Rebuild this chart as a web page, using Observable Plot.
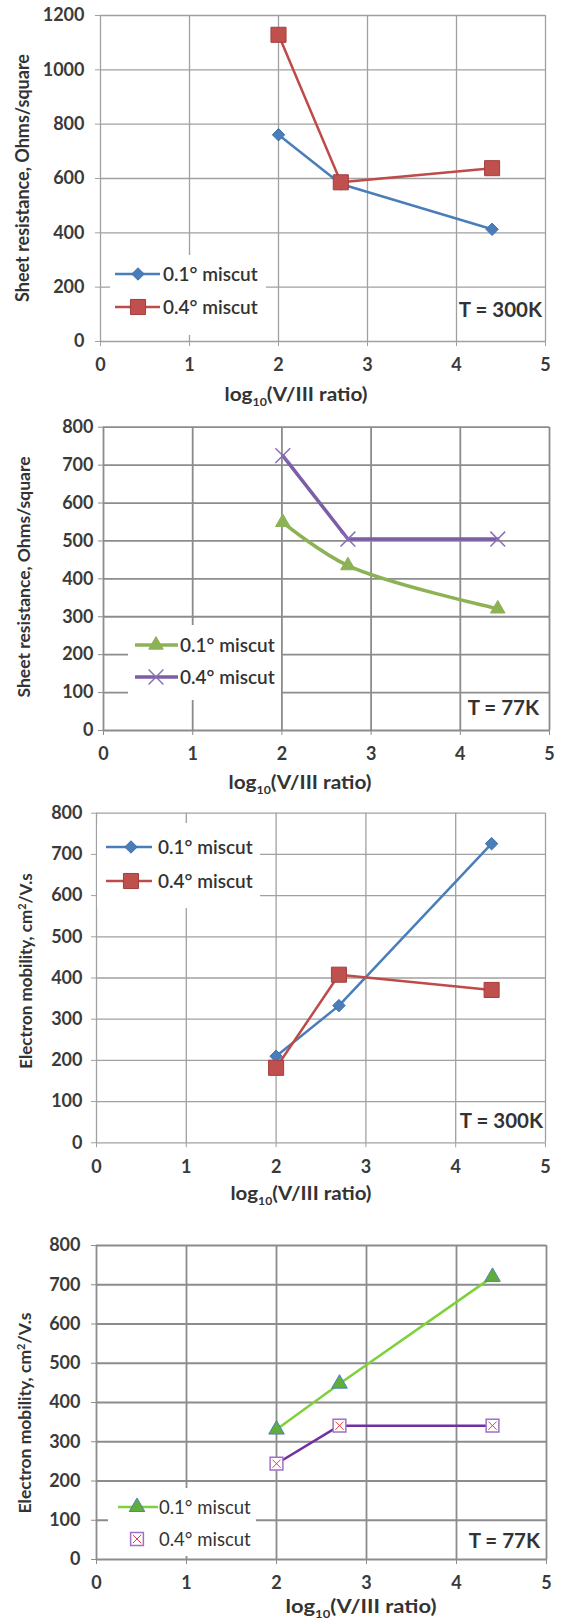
<!DOCTYPE html>
<html><head><meta charset="utf-8">
<script src="https://cdn.jsdelivr.net/npm/d3@7"></script>
<script src="https://cdn.jsdelivr.net/npm/@observablehq/plot@0.6"></script>
<style>
body{margin:0;background:#fff}
#c svg{display:block}
</style>
</head><body><div id="c"></div>
<script>
// ---------- data ----------
const xTicks = [0, 1, 2, 3, 4, 5];
const seriesNames = ["0.1° miscut", "0.4° miscut"];

// Panel 1: sheet resistance, 300 K
const p1X = [2, 2.7, 4.4];
const p1Miscut01 = [761, 580, 413];
const p1Miscut04 = [1129, 586, 638];
const p1YTicks = [0, 200, 400, 600, 800, 1000, 1200];

// Panel 2: sheet resistance, 77 K
const p2X = [2.01, 2.74, 4.42];
const p2Miscut01 = [549, 435, 321];
const p2Miscut04 = [725, 505, 505];
const p2YTicks = [0, 100, 200, 300, 400, 500, 600, 700, 800];

// Panel 3: electron mobility, 300 K
const p3X = [2, 2.7, 4.4];
const p3Miscut01 = [210, 333, 726];
const p3Miscut04 = [182, 408, 371];
const p3YTicks = [0, 100, 200, 300, 400, 500, 600, 700, 800];

// Panel 4: electron mobility, 77 K
const p4X = [2, 2.7, 4.4];
const p4Miscut01 = [331, 448, 720];
const p4Miscut04 = [244, 341, 341];
const p4YTicks = [0, 100, 200, 300, 400, 500, 600, 700, 800];

const rows = (xs, ys) => xs.map((x, i) => ({x, y: ys[i]}));

const FONT = "Lato, 'Liberation Sans', sans-serif";

function symPath(type, size) {
  return d3.symbol().type(type).size(size)();
}

function makePanel(cfg) {
  const s1 = rows(cfg.x, cfg.a), s2 = rows(cfg.x, cfg.b);
  const marks = [
    Plot.gridX(xTicks, {stroke: cfg.grid, strokeOpacity: 1, strokeWidth: cfg.gridW}),
    Plot.gridY(cfg.yTicks, {stroke: cfg.grid, strokeOpacity: 1, strokeWidth: cfg.gridW}),
    Plot.axisX(xTicks, {tickSize: 5, tickPadding: cfg.xPad, tickFormat: d => String(d), label: null}),
    Plot.axisY(cfg.yTicks, {tickSize: 5, tickPadding: cfg.yPad, tickFormat: d => String(d), label: null}),
  ];
  [[s1, cfg.st1], [s2, cfg.st2]].forEach(([data, st]) => {
    marks.push(Plot.line(data, {x: "x", y: "y", stroke: st.color, strokeWidth: st.lw, curve: st.curve || "linear"}));
    marks.push(Plot.dot(data, {x: "x", y: "y", symbol: st.symbol, r: st.r, fill: st.fill, stroke: st.stroke, strokeWidth: st.sw}));
    if (st.inner) marks.push(Plot.dot(data, {x: "x", y: "y", symbol: "times", r: st.inner.r, stroke: st.inner.stroke, strokeWidth: 1}));
  });
  const svg = Plot.plot({
    width: 564, height: cfg.height,
    marginTop: cfg.mt, marginBottom: cfg.mb, marginLeft: cfg.ml, marginRight: cfg.mr,
    x: {domain: [0, 5]},
    y: {domain: [cfg.yTicks[0], cfg.yTicks[cfg.yTicks.length - 1]]},
    style: {fontFamily: FONT, fontSize: "18px", fontWeight: "bold", color: "#3a3a3a", background: "#fff", overflow: "visible"},
    marks
  });
  const g = d3.select(svg);
  g.selectAll("[aria-label='x-axis tick'] path, [aria-label='y-axis tick'] path").attr("stroke", cfg.grid);

  // legend
  const L = cfg.legend;
  const lg = g.append("g").attr("font-family", FONT).attr("text-anchor", "start");
  lg.append("rect").attr("x", L.x0).attr("y", L.y0).attr("width", L.x1 - L.x0).attr("height", L.y1 - L.y0).attr("fill", "#fff");
  [cfg.st1, cfg.st2].forEach((st, i) => {
    const yy = L.rows[i];
    if (!st.noLegendLine)
      lg.append("line").attr("x1", L.lx0).attr("x2", L.lx1).attr("y1", yy).attr("y2", yy)
        .attr("stroke", st.color).attr("stroke-width", st.lw);
    const type = {square: d3.symbolSquare, diamond2: d3.symbolDiamond2, triangle: d3.symbolTriangle, times: d3.symbolTimes}[st.symbol];
    lg.append("path").attr("d", symPath(type, Math.PI * st.r * st.r))
      .attr("transform", `translate(${L.mx},${yy})`)
      .attr("fill", st.fill).attr("stroke", st.stroke).attr("stroke-width", st.sw);
    if (st.inner)
      lg.append("path").attr("d", symPath(d3.symbolTimes, Math.PI * st.inner.r * st.inner.r))
        .attr("transform", `translate(${L.mx},${yy})`).attr("fill", "none").attr("stroke", st.inner.stroke);
    lg.append("text").attr("x", L.tx).attr("y", yy).attr("dy", "0.36em")
      .attr("font-size", L.fs).attr("font-weight", L.fw).attr("fill", "#333").text(seriesNames[i]);
  });

  // temperature annotation
  g.append("text").attr("x", cfg.t.x).attr("y", cfg.t.y).attr("text-anchor", "end")
    .attr("font-family", FONT).attr("font-size", 20.5).attr("font-weight", "bold").attr("fill", "#333").text(cfg.t.label);

  // x label with subscript
  const xl = g.append("text").attr("x", cfg.xl.x - cfg.xl.w / 2).attr("y", cfg.xl.y).attr("text-anchor", "start")
    .attr("textLength", cfg.xl.w).attr("lengthAdjust", "spacingAndGlyphs")
    .attr("font-family", FONT).attr("font-size", 18.5).attr("font-weight", "bold").attr("fill", "#333");
  xl.append("tspan").text("log");
  xl.append("tspan").attr("font-size", 11).attr("dy", 5).text("10");
  xl.append("tspan").attr("dy", -5).text("(V/III ratio)");

  // y label
  const yl = g.append("text").attr("transform", `translate(${cfg.yl.x},${cfg.yl.y}) rotate(-90)`)
    .attr("text-anchor", "middle").attr("dy", "0.36em")
    .attr("font-family", FONT).attr("font-size", cfg.yl.fs).attr("font-weight", "bold").attr("fill", "#333");
  cfg.yl.parts.forEach(p => {
    const t = yl.append("tspan").text(p.t);
    if (p.sup) t.attr("font-size", 11).attr("dy", -6);
    if (p.after) t.attr("dy", 6);
  });
  return svg;
}

const blue = {color: "#4a7ebb", lw: 2.5, symbol: "diamond2", r: 5.6, fill: "#4a7ebb", stroke: "#3f6fa8", sw: 1};
const red = {color: "#be4b48", lw: 2.5, symbol: "square", r: 8.5, fill: "#c0504d", stroke: "#a33f3c", sw: 1};

const panels = [
  {
    height: 410, mt: 15, mb: 69, ml: 100, mr: 19, x: p1X, a: p1Miscut01, b: p1Miscut04, yTicks: p1YTicks,
    grid: "#a0a0a0", gridW: 1.3, xPad: 12, yPad: 11,
    st1: blue, st2: red,
    legend: {x0: 110, x1: 266, y0: 255, y1: 335, rows: [274, 307], lx0: 115, lx1: 160, mx: 138, tx: 163, fs: 19, fw: 600},
    t: {x: 542, y: 317, label: "T = 300K"},
    xl: {x: 296, y: 401, w: 143},
    yl: {x: 23, y: 178, fs: 18, parts: [{t: "Sheet resistance, Ohms/square"}]}
  },
  {
    height: 390, mt: 16.7, mb: 70, ml: 103, mr: 15, x: p2X, a: p2Miscut01, b: p2Miscut04, yTicks: p2YTicks,
    grid: "#8c8c8c", gridW: 1.8, xPad: 12, yPad: 5,
    st1: {color: "#8db255", lw: 3.5, symbol: "triangle", r: 5.4, fill: "#8db255", stroke: "#8db255", sw: 1, curve: "catmull-rom"},
    st2: {color: "#7b5ea7", lw: 3.5, symbol: "times", r: 6.8, fill: "none", stroke: "#8a6fb5", sw: 1.5},
    legend: {x0: 128, x1: 281, y0: 215, y1: 290, rows: [235, 267], lx0: 135, lx1: 178, mx: 156, tx: 180, fs: 19, fw: 600},
    t: {x: 539, y: 305, label: "T = 77K"},
    xl: {x: 300, y: 379, w: 143},
    yl: {x: 23.5, y: 167, fs: 17.5, parts: [{t: "Sheet resistance, Ohms/square"}]}
  },
  {
    height: 410, mt: 12.7, mb: 67.7, ml: 96, mr: 19, x: p3X, a: p3Miscut01, b: p3Miscut04, yTicks: p3YTicks,
    grid: "#a0a0a0", gridW: 1.3, xPad: 12, yPad: 9,
    st1: blue, st2: red,
    legend: {x0: 97, x1: 260, y0: 23, y1: 108, rows: [47, 81], lx0: 106, lx1: 152, mx: 131, tx: 158, fs: 19, fw: 600},
    t: {x: 543, y: 328, label: "T = 300K"},
    xl: {x: 301, y: 400, w: 141},
    yl: {x: 26, y: 171, fs: 17, parts: [{t: "Electron mobility, cm"}, {t: "2", sup: true}, {t: "/V.s", after: true}]}
  },
  {
    height: 411, mt: 35, mb: 62, ml: 96, mr: 18, x: p4X, a: p4Miscut01, b: p4Miscut04, yTicks: p4YTicks,
    grid: "#8c8c8c", gridW: 1.8, xPad: 12, yPad: 11,
    st1: {color: "#7fd13b", lw: 2.5, symbol: "triangle", r: 5.8, fill: "#5fae3a", stroke: "#4f81bd", sw: 1},
    st2: {color: "#7030a0", lw: 2.5, symbol: "square", r: 7.2, fill: "#fff", stroke: "#a070c8", sw: 1.5, inner: {r: 3.8, stroke: "#e04040"}, noLegendLine: true},
    legend: {x0: 108, x1: 256, y0: 278, y1: 346, rows: [297, 329], lx0: 118, lx1: 158, mx: 137, tx: 159, fs: 18.5, fw: 400},
    t: {x: 540, y: 338, label: "T = 77K"},
    xl: {x: 361, y: 403, w: 151},
    yl: {x: 25, y: 203, fs: 17.5, parts: [{t: "Electron mobility, cm"}, {t: "2", sup: true}, {t: "/V.s", after: true}]}
  }
];

const c = document.getElementById("c");
panels.forEach(p => c.appendChild(makePanel(p)));
</script>
</body></html>
